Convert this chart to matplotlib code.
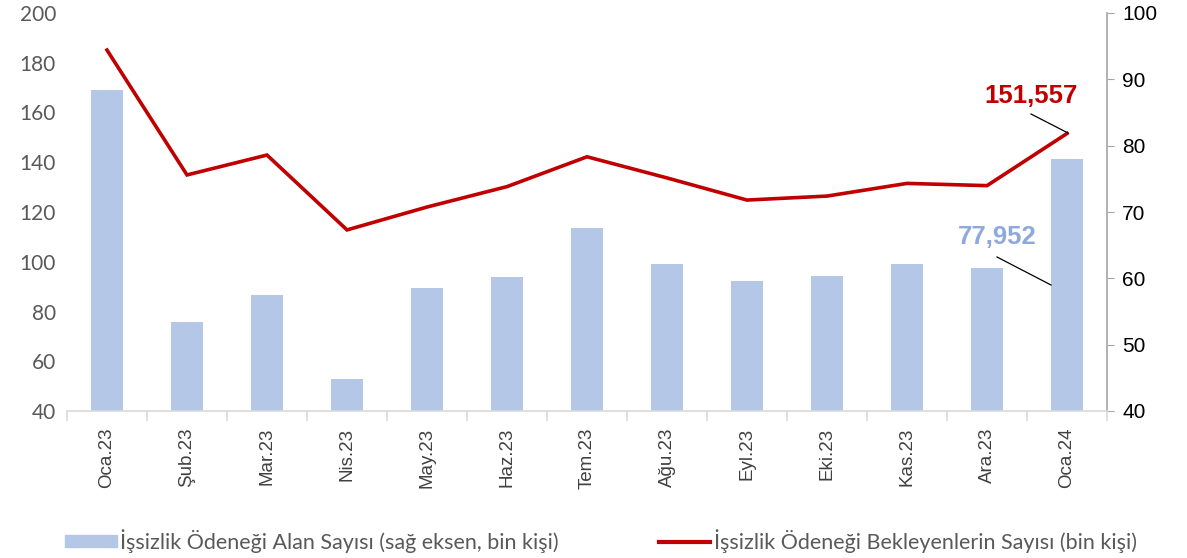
import numpy as np
import matplotlib.pyplot as plt
from matplotlib.lines import Line2D
from matplotlib.patches import Patch

# months
months = ['Oca.23', 'Şub.23', 'Mar.23', 'Nis.23', 'May.23', 'Haz.23', 'Tem.23',
          'Ağu.23', 'Eyl.23', 'Eki.23', 'Kas.23', 'Ara.23', 'Oca.24']

# bars: İşsizlik ödeneği alan (right axis, bin kişi)
alan = [88.4, 53.4, 57.5, 44.8, 58.6, 60.2, 67.6, 62.1, 59.6, 60.4, 62.1, 61.6, 77.952]

# line: ödeneği bekleyenler (left axis, bin kişi)
bekleyen = [185.1, 134.9, 142.9, 112.8, 122.0, 130.2, 142.2, 133.7, 124.8, 126.4,
            131.5, 130.6, 151.557]

bar_col = '#B4C7E7'
line_col = '#C00000'

W, H = 1187, 558
fig = plt.figure(figsize=(W/100, H/100), dpi=100)
ax = fig.add_axes([67/W, 1-411/H, (1107-67)/W, 398/H])
ax2 = ax.twinx()

x = np.arange(len(months))

ax2.bar(x, alan, width=0.41, color=bar_col, zorder=2)
ax.plot(x, bekleyen, color=line_col, lw=2.6, zorder=3, solid_joinstyle='miter')

ax.set_zorder(ax2.get_zorder() + 1)
ax.patch.set_visible(False)

ax.set_xlim(-0.5, len(months) - 0.5)
ax.set_ylim(40, 200)
ax.set_yticks(np.arange(40, 201, 20))
ax2.set_ylim(40, 100)
ax2.set_yticks(np.arange(40, 101, 10))

for a in (ax, ax2):
    for s in ['top', 'left']:
        a.spines[s].set_visible(False)
ax.spines['right'].set_visible(False)
ax2.spines['bottom'].set_visible(False)
ax2.spines['right'].set_color('#A6A6A6')
ax2.spines['right'].set_linewidth(1.2)
ax.spines['bottom'].set_color('#D9D9D9')
ax.spines['bottom'].set_linewidth(1.2)

ax.tick_params(axis='y', length=0, labelsize=15, labelcolor='#595959', pad=8)
for t in ax.get_yticklabels():
    t.set_fontfamily('Lato')
ax2.tick_params(axis='y', length=5, color='#A6A6A6', labelsize=15, labelcolor='black', pad=6)
for t in ax2.get_yticklabels():
    t.set_fontfamily('Liberation Sans')

ax.set_xticks(x)
ax.set_xticklabels(months, rotation=90, fontsize=13.5, family='Liberation Sans', color='#404040')
ax.tick_params(axis='x', which='major', length=0, pad=12)
ax.set_xticks(np.arange(-0.5, len(months), 1), minor=True)
ax.tick_params(axis='x', which='minor', length=7, color='#D9D9D9', width=1.2)

# value labels with leader lines
fig.text(1031/W, 1-96/H, '151,557', color=line_col, fontsize=18.5, fontweight='bold',
         family='Liberation Sans', ha='center', va='center')
fig.add_artist(Line2D([1031/W, 1068/W], [1-114/H, 1-133/H], color='black', lw=0.9))
fig.text(997/W, 1-237/H, '77,952', color='#8EA9DB', fontsize=18.5, fontweight='bold',
         family='Liberation Sans', ha='center', va='center')
fig.add_artist(Line2D([997/W, 1051/W], [1-257/H, 1-285/H], color='black', lw=0.9))

# legend
h1 = Patch(color=bar_col)
h2 = Line2D([0], [0], color=line_col, lw=3)
leg = fig.legend([h1, h2],
                 ['İşsizlik Ödeneği Alan Sayısı (sağ eksen, bin kişi)',
                  'İşsizlik Ödeneği Bekleyenlerin Sayısı (bin kişi)'],
                 loc='center left', bbox_to_anchor=(65/W, 1-541/H), ncol=2, frameon=False,
                 prop={'family': 'Lato', 'size': 15.5}, labelcolor='#595959',
                 handlelength=2.4, handleheight=0.5, handletextpad=0.15, columnspacing=4.65,
                 borderpad=0, borderaxespad=0)

fig.savefig('out.png', dpi=100)
